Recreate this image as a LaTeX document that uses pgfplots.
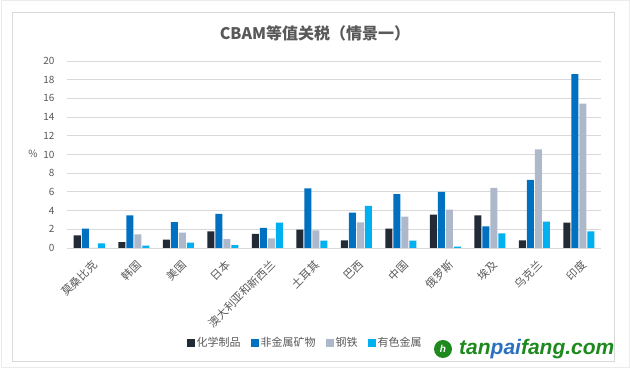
\documentclass[border=0pt]{standalone}
\usepackage{fontspec}
\setmainfont{Noto Sans CJK SC}
\newfontfamily\wmfont{Liberation Sans}
\usepackage{pgfplots}
\pgfplotsset{compat=1.18}
\usepackage{pgfplotstable}

\definecolor{chem}{HTML}{222A35}
\definecolor{nonm}{HTML}{0070C0}
\definecolor{steel}{HTML}{ADB9CA}
\definecolor{nonf}{HTML}{00B0F0}
\definecolor{txt}{HTML}{595959}
\definecolor{gridc}{HTML}{D9D9D9}
\definecolor{wmgreen}{HTML}{1E8A1E}
\definecolor{wmblue}{HTML}{2A6FC0}

\pgfplotstableread{
x chem nonm steel nonf
0 1.36 2.07 0 0.50
1 0.62 3.48 1.46 0.25
2 0.90 2.78 1.64 0.57
3 1.79 3.64 0.96 0.32
4 1.50 2.14 1.04 2.71
5 1.96 6.39 1.89 0.79
6 0.82 3.79 2.75 4.50
7 2.07 5.75 3.36 0.79
8 3.57 6.00 4.10 0.14
9 3.50 2.32 6.43 1.57
10 0.82 7.29 10.54 2.82
11 2.71 18.60 15.43 1.79
}\datatable

\begin{document}
\begin{tikzpicture}
\path[fill=white] (0pt,0pt) rectangle (630pt,369pt);
\draw[color=black!8, line width=1pt] (1pt,1pt) rectangle (629pt,368pt);
\draw[color=gridc, line width=1pt] (12pt,7pt) rectangle (614pt,356pt);
\begin{axis}[
  at={(67pt,121pt)}, anchor=south west,
  scale only axis, width=534pt, height=187pt,
  ymin=0, ymax=20, xmin=-0.5, xmax=11.5,
  ytick={0,2,...,20},
  xtick={0,...,11},
  xticklabels={莫桑比克,韩国,美国,日本,澳大利亚和新西兰,土耳其,巴西,中国,俄罗斯,埃及,乌克兰,印度},
  ybar=1pt, bar width=7pt,
  ymajorgrids, grid style={gridc, line width=0.8pt},
  axis lines*=left,
  y axis line style={draw=none},
  x axis line style={gridc, line width=0.8pt},
  major tick length=0pt,
  tick label style={text=txt},
  yticklabel style={font=\fontsize{10}{11}\selectfont, anchor=east, xshift=-9pt},
  xticklabel style={font=\fontsize{11}{12}\selectfont, xshift=2pt, yshift=-11pt, rotate=45, anchor=north east, inner sep=0pt},
  /pgf/number format/assume math mode=true,
  legend style={at={(0.446,-0.508)}, anchor=center, draw=none, legend columns=4,
    font=\fontsize{11}{13}\selectfont, text=txt,
    /tikz/every even column/.append style={column sep=8pt}},
  legend image code/.code={\fill[#1] (0pt,-4pt) rectangle (8pt,4pt);},
]
\addplot[fill=chem, draw=none] table[x=x, y=chem] {\datatable};
\addplot[fill=nonm, draw=none] table[x=x, y=nonm] {\datatable};
\addplot[fill=steel, draw=none] table[x=x, y=steel] {\datatable};
\addplot[fill=nonf, draw=none] table[x=x, y=nonf] {\datatable};
\legend{化学制品,非金属矿物,钢铁,有色金属}
\end{axis}
\node[font=\bfseries\fontsize{16}{18}\selectfont, text=txt] at (315pt,336pt) {CBAM等值关税（情景一）};
\node[font=\fontsize{10}{12}\selectfont, text=txt] at (33pt,215pt) {\%};
\fill[wmgreen] (443pt,20pt) circle (9pt);
\node[text=white, font=\wmfont\bfseries\itshape\fontsize{10}{10}\selectfont] at (443pt,20pt) {h};
\node[anchor=west, font=\wmfont\bfseries\itshape\fontsize{21}{22}\selectfont, inner sep=0pt] at (459pt,20pt) {\textcolor{wmgreen}{tan}\textcolor{wmblue}{pai}\textcolor{wmgreen}{fang.com}};
\end{tikzpicture}
\end{document}
